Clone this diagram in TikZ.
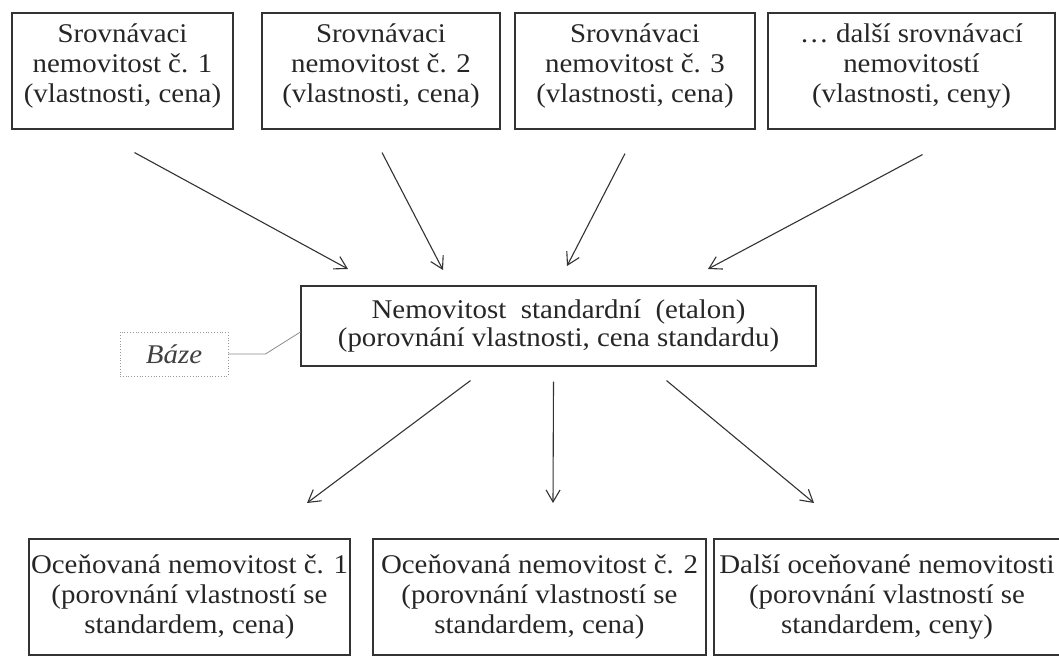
\documentclass[tikz,border=0pt]{standalone}
\usepackage{fontspec}
\setmainfont{Liberation Serif}[FakeStretch=1.07]
\usetikzlibrary{arrows.meta, calc}

\begin{document}
\begin{tikzpicture}[x = 1pt, y = -1pt,
        box/.style = {draw = black!80, line width = 1.1pt, align = center, text = black!85, inner sep = 0pt,
            font = \fontsize{27}{30}\selectfont},
        arr/.style = {draw = black!80, line width = 1.1pt, -{Straight Barb[length = 12pt, width = 14pt, line width = 1.1pt]}}]
    \useasboundingbox (0,0) rectangle (1059,657);
    \clip (0,0) rectangle (1059,657);

    \def\h{116}

    % srovnavaci nemovitosti (text sits high in the box)
    \node[box, minimum width = 221, minimum height = \h] (srov1) at (122.5,71) {Srovnávaci\\nemovitost č. 1\\(vlastnosti, cena)\\[-14pt]\mbox{}};
    \node[box, minimum width = 238, minimum height = \h] (srov2) at (381,71) {Srovnávaci\\nemovitost č. 2\\(vlastnosti, cena)\\[-14pt]\mbox{}};
    \node[box, minimum width = 240, minimum height = \h] (srov3) at (635,71) {Srovnávaci\\nemovitost č. 3\\(vlastnosti, cena)\\[-14pt]\mbox{}};
    \node[box, minimum width = 287, minimum height = \h] (srov4) at (911.5,71) {\dots\ další srovnávací\\nemovitostí\\(vlastnosti, ceny)\\[-14pt]\mbox{}};

    \node[box, font = \fontsize{27}{28.5}\selectfont, minimum width = 515, minimum height = 80] (etalon) at (558.5,326)
        {Nemovitost\ \ standardní\ \ (etalon)\\(porovnání vlastnosti, cena standardu)};
    \node[draw = black!40, dotted, line width = 0.8pt, text = black!75, minimum width = 108, minimum height = 44, inner sep = 0pt,
        font = \fontsize{27}{28}\selectfont\itshape] (baze) at (174,354) {Báze};
    \draw[black!45, line width = 0.8pt] (baze.east) -- ++(37,0) -- ($(etalon.west) + (0,6)$);

    \node[box, minimum width = 321, minimum height = \h] (ocen1) at (189.5,597) {Oceňovaná nemovitost č. 1\\(porovnání vlastností se\\standardem, cena)};
    \node[box, minimum width = 333, minimum height = \h] (ocen2) at (539.5,597) {Oceňovaná nemovitost č. 2\\(porovnání vlastností se\\standardem, cena)};
    \node[box, minimum width = 346, minimum height = \h] (ocen3) at (887,597) {Další oceňované nemovitosti\\(porovnání vlastností se\\standardem, ceny)};

    \coordinate (in1) at (348,269);
    \coordinate (in2) at (443,270);
    \coordinate (in3) at (567,266);
    \coordinate (in4) at (708,269);
    \draw[arr] (srov1.south) ++(12,23) -- (in1);
    \draw[arr] (srov2.south) ++(1,23) -- (in2);
    \draw[arr] (srov3.south) ++(-10,24) -- (in3);
    \draw[arr] (srov4.south) ++(11,25) -- (in4);

    \coordinate (out1) at (307,503);
    \coordinate (out2) at (553,503);
    \coordinate (out3) at (814,503);
    \draw[arr] (etalon.south) ++(-88,14) -- (out1);
    \draw[arr] (etalon.south) ++(-5,15) -- (out2);
    \draw[arr] (etalon.south) ++(108,14) -- (out3);
\end{tikzpicture}
\end{document}
